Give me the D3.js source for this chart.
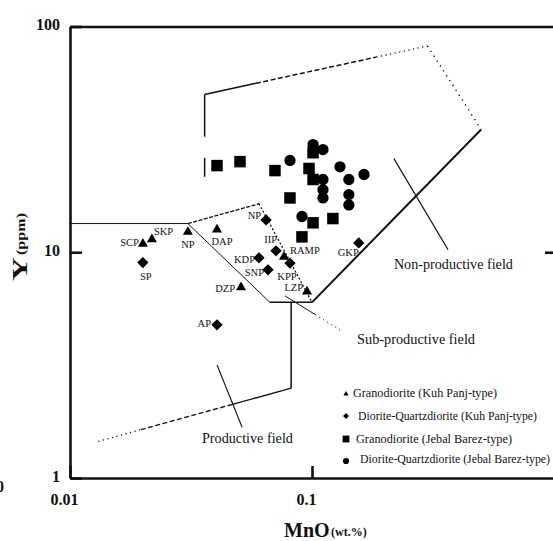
<!DOCTYPE html>
<html>
<head>
<meta charset="utf-8">
<script src="https://cdn.jsdelivr.net/npm/d3@7"></script>
<style>
  body { margin: 0; background: #fff; }
  svg { display: block; font-family: "Liberation Serif", "DejaVu Serif", serif; }
</style>
</head>
<body>
<svg id="chart" width="553" height="541"></svg>
<script>
// MnO (wt.%) vs Y (ppm)
const kuhPanjGrano = [
    { name: "SCP", mno: 0.0200, y: 10.9 },
    { name: "SKP", mno: 0.0218, y: 11.4 },
    { name: "NP", mno: 0.0307, y: 12.3 },
    { name: "DAP", mno: 0.0405, y: 12.6 },
    { name: "DZP", mno: 0.0509, y: 7.0 },
    { name: "RAMP", mno: 0.0766, y: 9.55 },
    { name: "LZP", mno: 0.0954, y: 6.7 }
];
const kuhPanjDiorite = [
    { name: "SP", mno: 0.0200, y: 9.0 },
    { name: "NP", mno: 0.0646, y: 13.9 },
    { name: "IIP", mno: 0.0710, y: 10.15 },
    { name: "KDP", mno: 0.0604, y: 9.45 },
    { name: "SNP", mno: 0.0658, y: 8.36 },
    { name: "KPP", mno: 0.0811, y: 8.95 },
    { name: "AP", mno: 0.0405, y: 4.77 },
    { name: "GKP", mno: 0.156, y: 11.0 }
];
const jebalGrano = [
    [0.0405, 24.2], [0.0504, 25.2], [0.0703, 23.0], [0.0972, 23.5], [0.101, 21.0],
    [0.101, 27.6], [0.0811, 17.4], [0.101, 13.5], [0.122, 14.1], [0.0909, 11.7]
];
const jebalDiorite = [
    [0.0811, 25.5], [0.101, 30.0], [0.111, 28.5], [0.111, 21.0], [0.111, 18.9], [0.111, 17.4],
    [0.1305, 23.9], [0.142, 21.0], [0.164, 22.1], [0.142, 18.0], [0.142, 16.2], [0.0909, 14.4]
];

// where each sample label sits next to its marker: [dx, dy, anchor]
const granoLabelPos = [[-4, 2, "end"], [2, -4, "start"], [0, 16, "middle"], [5, 15, "middle"],
    [-6, 5, "end"], [6, -3, "start"], [-4, -1, "end"]];
const dioriteLabelPos = [[3, 17, "middle"], [-5, -1, "end"], [1, -8, "end"], [-4, 5, "end"],
    [-4, 6, "end"], [-3, 17, "middle"], [-6, 2, "end"], [0, 13, "end"]];

// field boundaries (MnO, Y)
const nonProdLeftA = [[0.036, 50], [0.036, 32.5]];
const nonProdLeftB = [[0.036, 26.2], [0.036, 21.6]];
const nonProdTop = [[0.036, 50], [0.30, 82]];
const nonProdRight = [[0.30, 82], [0.50, 35]];
const nonProdBase = [[0.50, 35], [0.10, 6]];
const subProdLeft = [[0.01, 13.4], [0.0307, 13.4]];
const subProdTop = [[0.0307, 13.4], [0.0604, 16.4]];
const subProdRight = [[0.0604, 16.4], [0.10, 6]];
const subProdDiag = [[0.0307, 13.4], [0.067, 6]];
const subProdBottom = [[0.067, 6], [0.10, 6]];
const prodRight = [[0.082, 6], [0.082, 2.5]];
const prodBase = [[0.082, 2.5], [0.0127, 1.44]];

const fieldNames = ["Non-productive field", "Sub-productive field", "Productive field"];
const fieldLabelAt = [[0.218, 8.45], [0.1535, 3.93], [0.0351, 1.43]];
const fieldLabelWidth = [119, 118, 91];
const leaderLines = [
    [[0.218, 26.0], [0.365, 10.26]],
    [[0.0773, 6.41], [0.1305, 4.53]],
    [[0.0405, 3.17], [0.0514, 1.68]]
];

const legendNames = [
    "Granodiorite (Kuh Panj-type)",
    "Diorite-Quartzdiorite (Kuh Panj-type)",
    "Granodiorite (Jebal Barez-type)",
    "Diorite-Quartzdiorite (Jebal Barez-type)"
];
const legendWidths = [144, 179, 156, 190];

const xTicks = [0.01, 0.1];
const yTicks = [1, 10, 100];

const svg = d3.select("#chart");
const mLeft = 70, mRight = 554, mTop = 26.5, mBottom = 478;

const x = d3.scaleLog().domain([0.01, 1]).range([mLeft, mRight]);
const y = d3.scaleLog().domain([1, 100]).range([mBottom, mTop]);

const ink = "#111";

// frame + ticks (inward)
const axisB = svg.append("g").attr("transform", `translate(0,${mBottom})`)
    .call(d3.axisBottom(x).tickValues(xTicks).tickSize(-12).tickSizeOuter(0)
        .tickPadding(16).tickFormat(d => d));
axisB.selectAll("text").attr("dx", -6).attr("font-size", 16).attr("font-weight", "bold")
    .attr("font-family", "Liberation Serif").attr("fill", ink);

const axisL = svg.append("g").attr("transform", `translate(${mLeft},0)`)
    .call(d3.axisLeft(y).tickValues(yTicks).tickSize(-12).tickSizeOuter(0)
        .tickPadding(10).tickFormat(d3.format("d")));
axisL.selectAll("text").attr("dy", "0.2em").attr("font-size", 16).attr("font-weight", "bold")
    .attr("font-family", "Liberation Serif").attr("fill", ink);

svg.append("g").attr("transform", `translate(0,${mTop})`)
    .call(d3.axisTop(x).tickValues([]).tickSizeOuter(0));
svg.append("g").attr("transform", `translate(${mRight + 2},0)`)
    .call(d3.axisRight(y).tickValues([10]).tickSize(-11).tickSizeOuter(0).tickFormat(""));

svg.selectAll(".domain").attr("stroke", ink).attr("stroke-width", 2.6);
svg.selectAll(".tick line").attr("stroke", ink).attr("stroke-width", 2.6);

// stray "0" cut at the left border
svg.append("text").attr("x", 4).attr("y", 492).attr("text-anchor", "end")
    .attr("font-size", 16).attr("font-weight", "bold").attr("fill", ink).text("0");

// axis titles
const xt = svg.append("g");
xt.append("text").attr("x", 284).attr("y", 537).attr("font-size", 20).attr("font-weight", "bold")
    .attr("fill", ink).text("MnO");
xt.append("text").attr("x", 331).attr("y", 536).attr("font-size", 12).attr("font-weight", "bold")
    .attr("fill", ink).text("(wt.%)");

const yt = svg.append("g").attr("transform", "rotate(-90)");
yt.append("text").attr("x", -281).attr("y", 27).attr("font-size", 21).attr("font-weight", "bold")
    .attr("textLength", 24).attr("lengthAdjust", "spacingAndGlyphs").attr("fill", ink).text("Y");
yt.append("text").attr("x", -255).attr("y", 25).attr("font-size", 12).attr("font-weight", "bold")
    .attr("textLength", 42).attr("lengthAdjust", "spacingAndGlyphs").attr("fill", ink).text("(ppm)");

// field boundaries
const DOT = "1.2,3.5", DASH = "5,2.5";
function drawLine(pts, parts, width) {
    const a = [x(pts[0][0]), y(pts[0][1])];
    const b = [x(pts[1][0]), y(pts[1][1])];
    parts.forEach(([t0, t1, dash]) => {
        svg.append("line")
            .attr("x1", a[0] + (b[0] - a[0]) * t0).attr("y1", a[1] + (b[1] - a[1]) * t0)
            .attr("x2", a[0] + (b[0] - a[0]) * t1).attr("y2", a[1] + (b[1] - a[1]) * t1)
            .attr("stroke", ink).attr("stroke-width", width)
            .attr("stroke-dasharray", dash);
    });
}
const SOLID = [[0, 1, null]];
drawLine(nonProdLeftA, SOLID, 1.5);
drawLine(nonProdLeftB, SOLID, 1.5);
drawLine(nonProdTop, [[0, 0.23, null], [0.23, 0.77, DASH], [0.77, 1, DOT]], 1.5);
drawLine(nonProdRight, [[0, 1, "1.3,4.5"]], 1.4);
drawLine(nonProdBase, SOLID, 2);
drawLine(subProdLeft, SOLID, 1);
drawLine(subProdTop, [[0, 1, "4,1.5"]], 1.3);
drawLine(subProdRight, [[0, 1, "2,2"]], 1.3);
drawLine(subProdDiag, SOLID, 1);
drawLine(subProdBottom, SOLID, 1.5);
drawLine(prodRight, SOLID, 1.5);
drawLine(prodBase, [[0, 0.3, null], [0.3, 0.77, DASH], [0.77, 1, DOT]], 1.4);
drawLine(leaderLines[0], SOLID, 1.2);
drawLine(leaderLines[1], [[0, 0.55, null], [0.55, 1, DOT]], 1);
drawLine(leaderLines[2], SOLID, 1.2);

fieldNames.forEach((name, i) => {
    svg.append("text")
        .attr("x", x(fieldLabelAt[i][0])).attr("y", y(fieldLabelAt[i][1]))
        .attr("font-size", 15).attr("textLength", fieldLabelWidth[i])
        .attr("lengthAdjust", "spacingAndGlyphs").attr("fill", ink).text(name);
});

// markers
const triangle = d3.symbol().type(d3.symbolTriangle).size(44)();
const diamond = d3.symbol().type(d3.symbolSquare).size(64)();
const square = d3.symbol().type(d3.symbolSquare).size(132)();
const circle = d3.symbol().type(d3.symbolCircle).size(100)();

svg.append("g").selectAll("path").data(jebalGrano).join("path")
    .attr("d", square).attr("fill", "#000")
    .attr("transform", d => `translate(${x(d[0])},${y(d[1])})`);
svg.append("g").selectAll("path").data(jebalDiorite).join("path")
    .attr("d", circle).attr("fill", "#000")
    .attr("transform", d => `translate(${x(d[0])},${y(d[1])})`);
svg.append("g").selectAll("path").data(kuhPanjGrano).join("path")
    .attr("d", triangle).attr("fill", "#000")
    .attr("transform", d => `translate(${x(d.mno)},${y(d.y)})`);
svg.append("g").selectAll("path").data(kuhPanjDiorite).join("path")
    .attr("d", diamond).attr("fill", "#000")
    .attr("transform", d => `translate(${x(d.mno)},${y(d.y)}) rotate(45)`);

function sampleLabels(data, pos) {
    svg.append("g").selectAll("text").data(data).join("text")
        .attr("x", (d, i) => x(d.mno) + pos[i][0])
        .attr("y", (d, i) => y(d.y) + pos[i][1])
        .attr("text-anchor", (d, i) => pos[i][2])
        .attr("font-size", 10.5).attr("fill", ink)
        .text(d => d.name);
}
sampleLabels(kuhPanjGrano, granoLabelPos);
sampleLabels(kuhPanjDiorite, dioriteLabelPos);

// legend
const legendSymbols = [
    d3.symbol().type(d3.symbolTriangle).size(12)(),
    d3.symbol().type(d3.symbolSquare).size(18)(),
    d3.symbol().type(d3.symbolSquare).size(46)(),
    d3.symbol().type(d3.symbolCircle).size(30)()
];
const legendMarkY = [394, 416, 439, 461];
const legendTextX = [353, 358, 356, 360];
const legendTextY = [397, 420, 443, 463];
const legend = svg.append("g");
legendNames.forEach((name, i) => {
    legend.append("path").attr("d", legendSymbols[i]).attr("fill", "#000")
        .attr("transform", `translate(346,${legendMarkY[i]})` + (i === 1 ? " rotate(45)" : ""));
    legend.append("text").attr("x", legendTextX[i]).attr("y", legendTextY[i])
        .attr("font-size", 12).attr("textLength", legendWidths[i])
        .attr("lengthAdjust", "spacingAndGlyphs").attr("fill", ink).text(name);
});
</script>
</body>
</html>
